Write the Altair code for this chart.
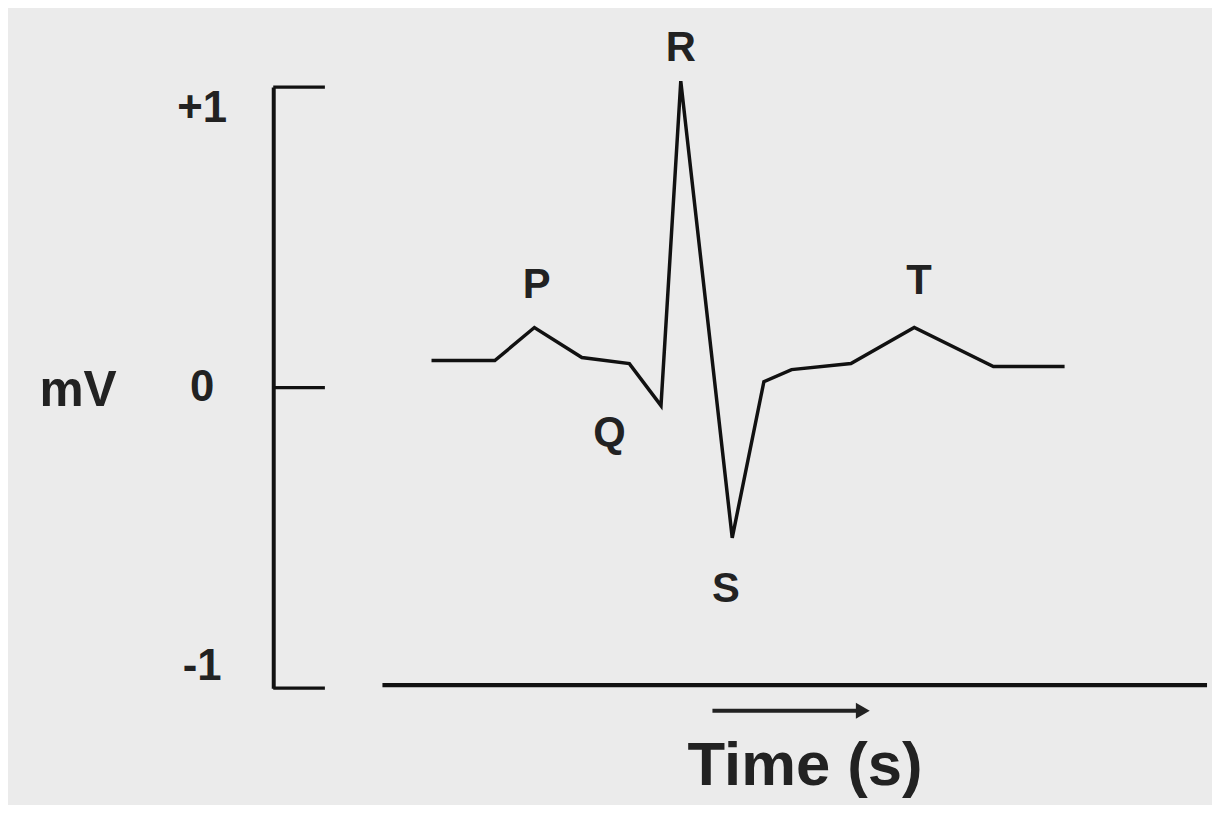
import altair as alt
import pandas as pd

# ECG trace (time in s, voltage in mV)
t_vals = [0.0, 0.08, 0.13, 0.19, 0.25, 0.29, 0.315, 0.38, 0.42, 0.455, 0.53, 0.61, 0.71, 0.80]
v_vals = [0.09, 0.09, 0.20, 0.10, 0.08, -0.06, 1.02, -0.50, 0.02, 0.06, 0.08, 0.20, 0.07, 0.07]

# wave labels
wave_names = ["P", "Q", "R", "S", "T"]
wave_t = [0.133, 0.225, 0.315, 0.372, 0.616]
wave_v = [0.34, -0.15, 1.13, -0.67, 0.355]

# y axis ticks
tick_vals = [-1, 0, 1]

FONT = "Liberation Sans"
xs = alt.Scale(domain=[-0.2, 0.98])
ys = alt.Scale(domain=[-1, 1])

line_df = pd.DataFrame({"t": t_vals, "v": v_vals})
lab_df = pd.DataFrame({"name": wave_names, "t": wave_t, "v": wave_v})
tick_df = pd.DataFrame({"v": tick_vals})

ecg = alt.Chart(line_df).mark_line(color="#111111", strokeWidth=3.5).encode(
    x=alt.X("t:Q", scale=xs, axis=None),
    y=alt.Y("v:Q", scale=ys, axis=alt.Axis(
        values=tick_vals, ticks=False, grid=False,
        domainColor="#111111", domainWidth=4,
        labelExpr="datum.value > 0 ? '+1' : (datum.value < 0 ? '-1' : '0')",
        labelFont=FONT, labelFontSize=44, labelFontWeight="bold", labelColor="#222222",
        labelAlign="center",
        labelBaseline={"condition": [
            {"test": "datum.value > 0", "value": "top"},
            {"test": "datum.value < 0", "value": "bottom"}],
            "value": "middle"},
        labelPadding=72, labelFlush=False, labelOverlap=False,
        title="mV", titleFont=FONT, titleFontSize=50, titleFontWeight="bold",
        titleColor="#222222", titleAngle=0, titleX=-197, titleY=305,
        titleAlign="center", titleBaseline="middle")),
)

ticks = alt.Chart(tick_df).mark_rule(color="#111111", strokeWidth=3.5).encode(
    y=alt.Y("v:Q", scale=ys), x=alt.value(0), x2=alt.value(52)
)

xaxis_df = pd.DataFrame({"t0": [-0.062], "t1": [0.98], "v": [-0.99]})
xaxis = alt.Chart(xaxis_df).mark_rule(color="#111111", strokeWidth=4.5).encode(
    x=alt.X("t0:Q", scale=xs), x2="t1:Q", y=alt.Y("v:Q", scale=ys)
)

arrow_df = pd.DataFrame({"t0": [0.355], "t1": [0.545], "v": [-1.075]})
arrow_line = alt.Chart(arrow_df).mark_rule(color="#222222", strokeWidth=4).encode(
    x=alt.X("t0:Q", scale=xs), x2="t1:Q", y=alt.Y("v:Q", scale=ys)
)
arrow_head = alt.Chart(arrow_df).mark_point(
    shape="triangle-right", filled=True, color="#222222", size=260, opacity=1
).encode(x=alt.X("t1:Q", scale=xs), y=alt.Y("v:Q", scale=ys))

labels = alt.Chart(lab_df).mark_text(
    font=FONT, fontSize=42, fontWeight="bold", color="#222222", baseline="middle"
).encode(x=alt.X("t:Q", scale=xs), y=alt.Y("v:Q", scale=ys), text="name:N")

title_df = pd.DataFrame({"t": [0.472], "v": [-1.26], "txt": ["Time (s)"]})
xtitle = alt.Chart(title_df).mark_text(
    font=FONT, fontSize=62, fontWeight="bold", color="#222222", baseline="middle"
).encode(x=alt.X("t:Q", scale=xs), y=alt.Y("v:Q", scale=ys), text="txt:N")

chart = alt.layer(ecg, ticks, xaxis, arrow_line, arrow_head, labels, xtitle).properties(
    width=940, height=605,
    padding={"left": 267, "top": 77, "right": 5, "bottom": 115},
    autosize=alt.AutoSizeParams(type="none"),
    background="#ebebeb",
).configure_view(stroke=None)

chart.save("out.html", embed_options={"renderer": "svg", "actions": False})
